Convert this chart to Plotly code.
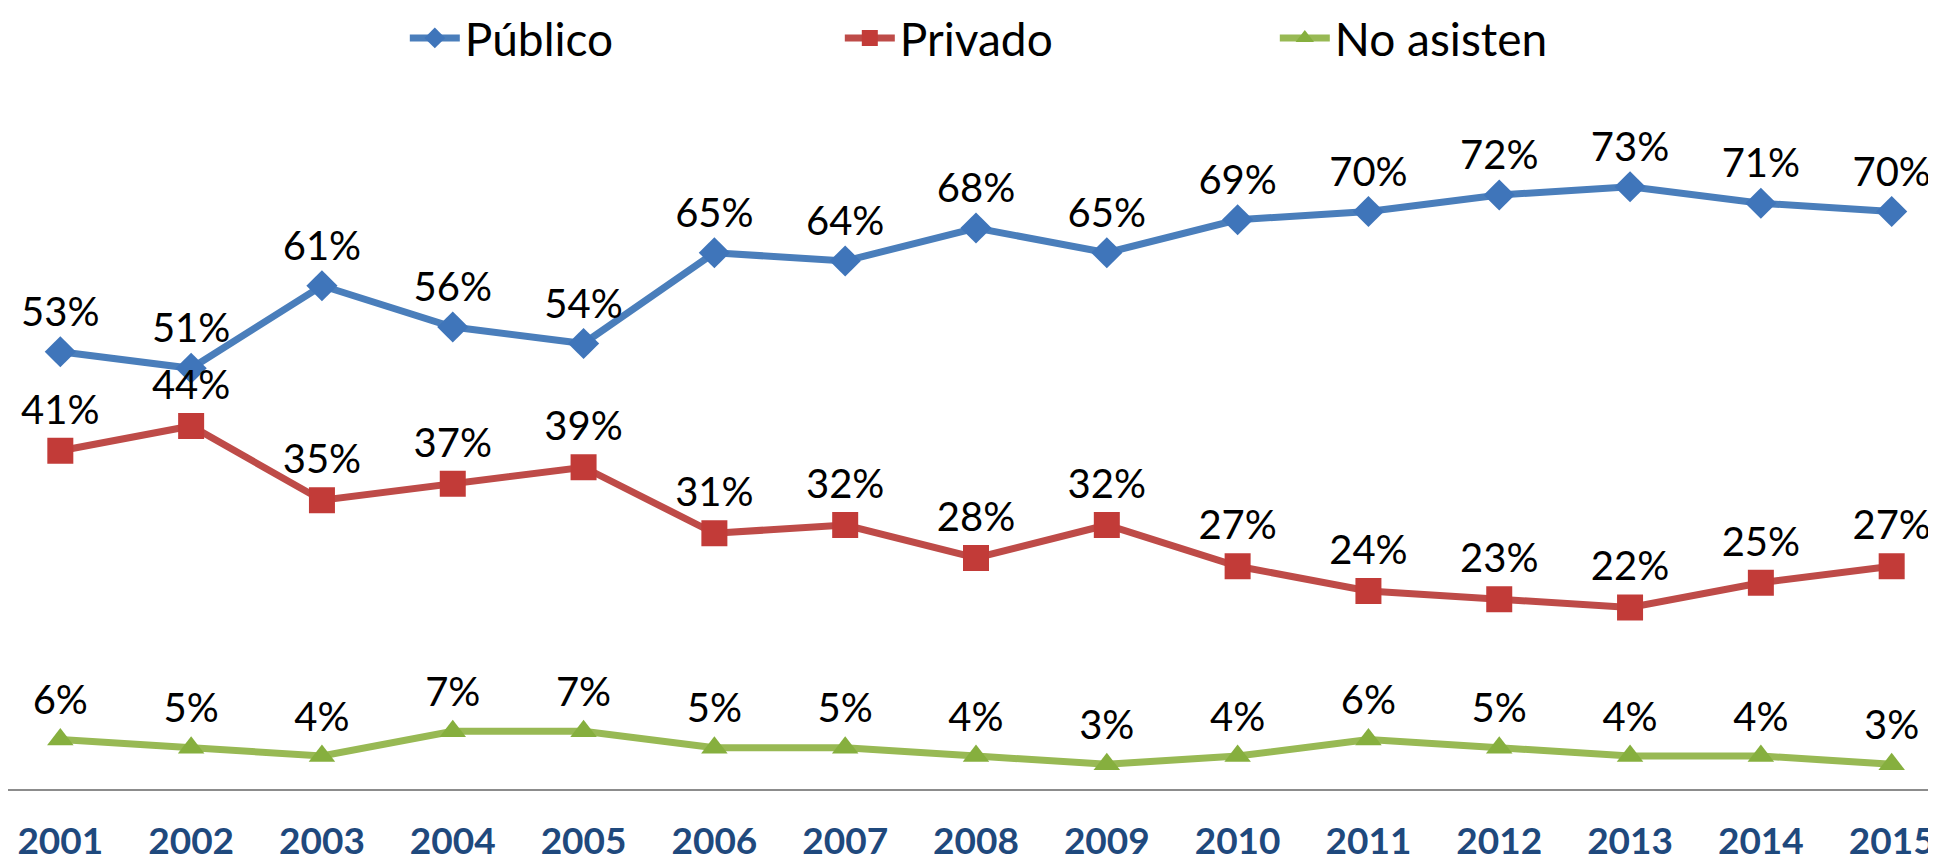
import plotly.graph_objects as go

years = [2001, 2002, 2003, 2004, 2005, 2006, 2007, 2008, 2009, 2010, 2011, 2012, 2013, 2014, 2015]
publico = [53, 51, 61, 56, 54, 65, 64, 68, 65, 69, 70, 72, 73, 71, 70]
privado = [41, 44, 35, 37, 39, 31, 32, 28, 32, 27, 24, 23, 22, 25, 27]
no_asisten = [6, 5, 4, 7, 7, 5, 5, 4, 3, 4, 6, 5, 4, 4, 3]

series = [
    ("Público", publico, "#4A7EBB", "#3F75BA", "diamond", 24),
    ("Privado", privado, "#BE4B48", "#C23B38", "square", 26),
    ("No asisten", no_asisten, "#98B954", "#86AF3E", "triangle-up", 23),
]

fig = go.Figure()
for name, vals, lc, mc, sym, sz in series:
    fig.add_trace(go.Scatter(
        x=years, y=vals, name=name, mode="lines+markers+text",
        line=dict(color=lc, width=7),
        marker=dict(symbol=sym, size=sz, color=mc, line=dict(width=0)),
        text=[f"{v}%" for v in vals], textposition="top center",
        textfont=dict(family="Lato", size=40, color="#000000"),
        cliponaxis=False,
    ))

fig.update_layout(
    width=1936, height=859,
    margin=dict(l=0, r=0, t=121, b=78, autoexpand=False),
    paper_bgcolor="white", plot_bgcolor="white",
    showlegend=True,
    legend=dict(orientation="h", x=0.542, xanchor="center", y=0.965, yanchor="middle",
                yref="container",
                font=dict(family="Lato", size=46, color="#000000"),
                entrywidth=370, itemwidth=50, tracegroupgap=0),
    xaxis=dict(range=[2000.6, 2015.4], tickmode="array", tickvals=years,
               ticktext=[str(y) for y in years], showgrid=False, zeroline=False,
               showline=True, linecolor="#8C8C8C", linewidth=2, ticks="",
               ticklabelstandoff=19,
               tickfont=dict(family="Lato", size=37, color="#1F497D", weight="bold")),
    yaxis=dict(range=[0, 80], visible=False, showgrid=False, zeroline=False),
)

fig.write_html("out.html")
